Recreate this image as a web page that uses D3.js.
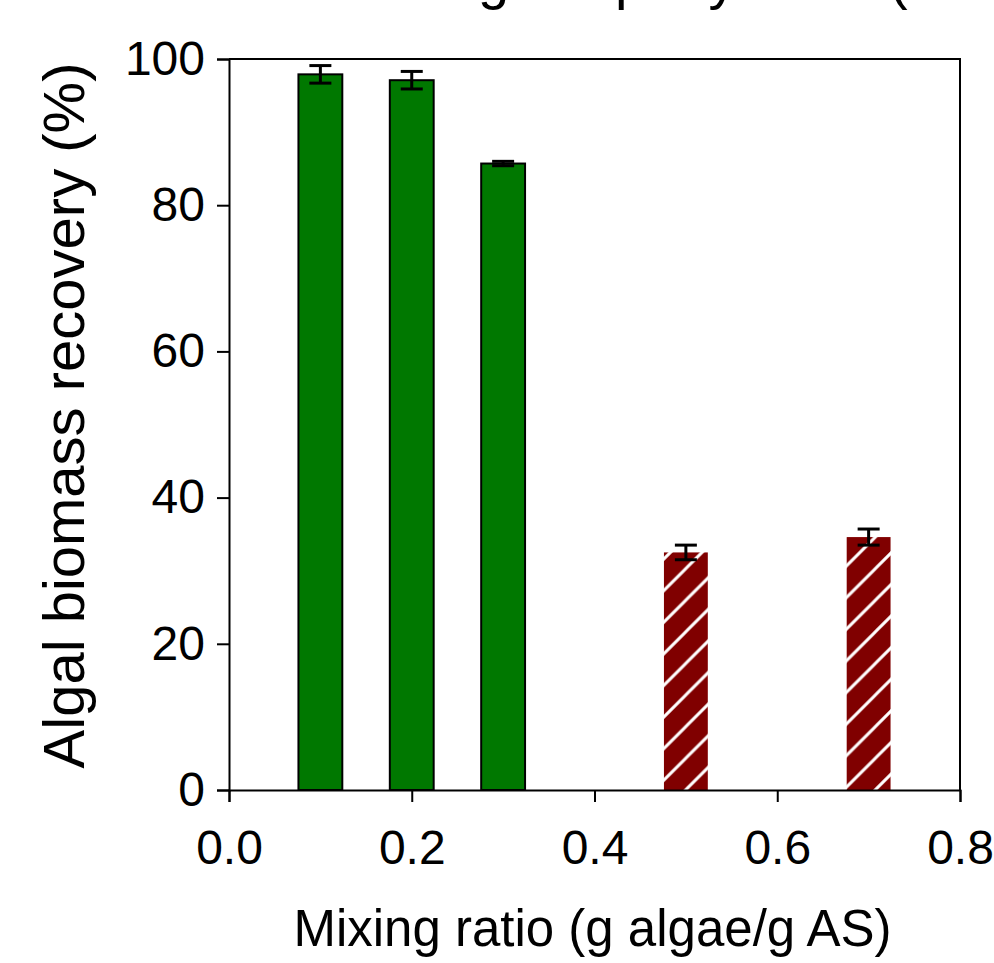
<!DOCTYPE html>
<html>
<head>
<meta charset="utf-8">
<script src="https://cdn.jsdelivr.net/npm/d3@7"></script>
<style>
  body { margin: 0; background: #fff; }
  svg { display: block; font-family: "Liberation Sans", Arial, sans-serif; }
</style>
</head>
<body>
<div id="chart"></div>
<script>
// Data
const titleText = "Flocculation of algae sp. by alum (Batch A)";
const xLabel = "Mixing ratio (g algae/g AS)";
const yLabel = "Algal biomass recovery (%)";

const greenX = [0.1, 0.2, 0.3];
const greenY = [97.9, 97.1, 85.7];
const greenErr = [1.2, 1.2, 0.3];

const redX = [0.5, 0.7];
const redY = [32.5, 34.6];
const redErr = [1.0, 1.1];

const xTicks = [0.0, 0.2, 0.4, 0.6, 0.8];
const yTicks = [0, 20, 40, 60, 80, 100];

const width = 994, height = 963;
const margin = { top: 59, right: 34, bottom: 173, left: 229 };
const barW = 0.048; // bar width in x units

const svg = d3.select("#chart").append("svg")
  .attr("width", width)
  .attr("height", height);

const x = d3.scaleLinear().domain([0, 0.8]).range([margin.left, width - margin.right]);
const y = d3.scaleLinear().domain([0, 100]).range([height - margin.bottom, margin.top]);

// Hatch pattern for the red bars
const defs = svg.append("defs");
const hatch = defs.append("pattern")
  .attr("id", "hatch")
  .attr("patternUnits", "userSpaceOnUse")
  .attr("x", 22)
  .attr("y", 0)
  .attr("width", 31.6)
  .attr("height", 31.6);
hatch.append("rect").attr("width", 31.6).attr("height", 31.6).attr("fill", "#800000");
hatch.append("path")
  .attr("d", "M-4,35.6 L35.6,-4 M-4,4 L4,-4 M27.6,35.6 L35.6,27.6")
  .attr("stroke", "#fff")
  .attr("stroke-width", 3);

// Title (only its lower edge shows in the frame)
const title = svg.append("text")
  .attr("x", 0)
  .attr("y", -2)
  .attr("font-size", 56)
  .text(titleText);
const gIdx = titleText.indexOf("g");
const gPos = title.node().getStartPositionOfChar(gIdx).x;
title.attr("x", 478 - gPos);

// Green bars
const gGreen = svg.append("g");
gGreen.selectAll("rect")
  .data(greenX)
  .join("rect")
  .attr("x", d => x(d - barW / 2))
  .attr("width", d => x(d + barW / 2) - x(d - barW / 2))
  .attr("y", (d, i) => y(greenY[i]))
  .attr("height", (d, i) => y(0) - y(greenY[i]))
  .attr("fill", "#007800")
  .attr("stroke", "#000")
  .attr("stroke-width", 2);

// Red hatched bars
const gRed = svg.append("g");
gRed.selectAll("rect")
  .data(redX)
  .join("rect")
  .attr("x", d => x(d - barW / 2))
  .attr("width", d => x(d + barW / 2) - x(d - barW / 2))
  .attr("y", (d, i) => y(redY[i]))
  .attr("height", (d, i) => y(0) - y(redY[i]))
  .attr("fill", "url(#hatch)");

// Error bars
function errorBars(xs, ys, es) {
  const g = svg.append("g").attr("stroke", "#000").attr("stroke-width", 3);
  xs.forEach((xv, i) => {
    const cx = x(xv), top = y(ys[i] + es[i]), bot = y(ys[i] - es[i]);
    g.append("line").attr("x1", cx).attr("x2", cx).attr("y1", top).attr("y2", bot);
    g.append("line").attr("x1", cx - 11).attr("x2", cx + 11).attr("y1", top).attr("y2", top);
    g.append("line").attr("x1", cx - 11).attr("x2", cx + 11).attr("y1", bot).attr("y2", bot);
  });
}
errorBars(greenX, greenY, greenErr);
errorBars(redX, redY, redErr);

// Frame (top and right)
svg.append("path")
  .attr("d", `M${x(0)},${y(100)} H${x(0.8)} V${y(0)}`)
  .attr("fill", "none")
  .attr("stroke", "#000")
  .attr("stroke-width", 2);

// Axes
const xAxis = svg.append("g")
  .attr("transform", `translate(0,${y(0)})`)
  .call(d3.axisBottom(x).tickValues(xTicks).tickFormat(d3.format(".1f")).tickSizeOuter(0).tickSize(12).tickPadding(28));
const yAxis = svg.append("g")
  .attr("transform", `translate(${x(0)},0)`)
  .call(d3.axisLeft(y).tickValues(yTicks).tickSizeOuter(0).tickSize(12).tickPadding(12));

[xAxis, yAxis].forEach(a => {
  a.select(".domain").attr("stroke", "#000").attr("stroke-width", 2);
  a.selectAll(".tick line").attr("stroke", "#000").attr("stroke-width", 2);
  a.selectAll(".tick text")
    .attr("fill", "#000")
    .attr("font-size", 48)
    .attr("font-family", "Liberation Sans, Arial, sans-serif");
});

// Axis titles
svg.append("text")
  .attr("x", (x(0) + x(0.8)) / 2 - 2)
  .attr("y", 946)
  .attr("text-anchor", "middle")
  .attr("font-size", 51)
  .text(xLabel);

svg.append("text")
  .attr("transform", `translate(84,${(y(0) + y(100)) / 2 - 9}) rotate(-90)`)
  .attr("text-anchor", "middle")
  .attr("font-size", 58)
  .text(yLabel);
</script>
</body>
</html>
